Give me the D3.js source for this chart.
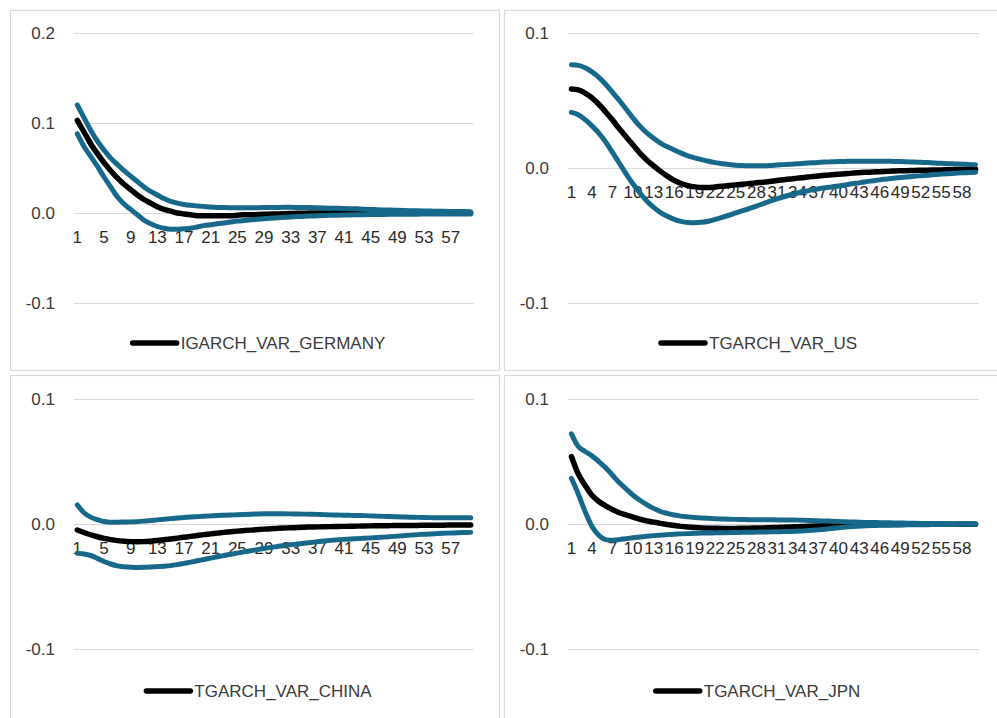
<!DOCTYPE html>
<html>
<head>
<meta charset="utf-8">
<script src="https://cdn.jsdelivr.net/npm/d3@7"></script>
<style>
  html, body { margin: 0; padding: 0; background: #fff; }
  svg { display: block; font-family: "Liberation Sans", Arial, sans-serif; }
</style>
</head>
<body>
<svg id="chart" width="997" height="718"></svg>
<script>
// Impulse-response periods 1..60
const periods = d3.range(1, 61);

// Tick labels
const ticksEvery4 = [1, 5, 9, 13, 17, 21, 25, 29, 33, 37, 41, 45, 49, 53, 57];
const ticksEvery3 = [1, 4, 7, 10, 13, 16, 19, 22, 25, 28, 31, 34, 37, 40, 43, 46, 49, 52, 55, 58];
const yTicksWide = [-0.1, 0.0, 0.1, 0.2];
const yTicksNarrow = [-0.1, 0.0, 0.1];

// Series names
const seriesNames = ["IGARCH_VAR_GERMANY", "TGARCH_VAR_US", "TGARCH_VAR_CHINA", "TGARCH_VAR_JPN"];

// GERMANY
const germanyResp = [0.103, 0.090, 0.077, 0.066, 0.056, 0.047, 0.039, 0.032, 0.026, 0.020,
  0.015, 0.011, 0.007, 0.004, 0.002, 0.000, -0.001, -0.002, -0.003, -0.003,
  -0.003, -0.003, -0.003, -0.003, -0.0025, -0.002, -0.002, -0.0018, -0.0015, -0.0012,
  -0.001, -0.0008, -0.0006, -0.0004, -0.0002, -0.0001, 0.0000, 0.0001, 0.0001, 0.0002,
  0.0002, 0.0002, 0.0002, 0.0002, 0.0002, 0.0002, 0.0002, 0.0002, 0.0001, 0.0001,
  0.0001, 0.0001, 0.0001, 0.0001, 0.0001, 0.0001, 0.0000, 0.0000, 0.0000, 0.0000];
const germanyUpper = [0.120, 0.106, 0.092, 0.080, 0.070, 0.061, 0.054, 0.047, 0.041, 0.035,
  0.029, 0.024, 0.020, 0.016, 0.013, 0.011, 0.0095, 0.0085, 0.0078, 0.0072,
  0.0066, 0.0062, 0.0060, 0.0058, 0.0057, 0.0057, 0.0058, 0.0059, 0.0060, 0.0061,
  0.0062, 0.0063, 0.0063, 0.0062, 0.0061, 0.0060, 0.0058, 0.0056, 0.0054, 0.0052,
  0.0050, 0.0048, 0.0046, 0.0043, 0.0040, 0.0037, 0.0034, 0.0032, 0.0030, 0.0028,
  0.0026, 0.0024, 0.0022, 0.0021, 0.0020, 0.0019, 0.0018, 0.0017, 0.0016, 0.0015];
const germanyLower = [0.088, 0.074, 0.063, 0.052, 0.040, 0.029, 0.018, 0.010, 0.004, -0.002,
  -0.008, -0.012, -0.015, -0.017, -0.018, -0.018, -0.0175, -0.017, -0.0155, -0.014,
  -0.013, -0.012, -0.011, -0.010, -0.009, -0.0083, -0.0076, -0.0070, -0.0064, -0.0058,
  -0.0053, -0.0048, -0.0044, -0.0040, -0.0037, -0.0034, -0.0031, -0.0028, -0.0026, -0.0024,
  -0.0022, -0.0021, -0.0020, -0.0019, -0.0018, -0.0017, -0.0016, -0.0015, -0.0014, -0.0014,
  -0.0013, -0.0013, -0.0012, -0.0012, -0.0011, -0.0011, -0.0011, -0.0010, -0.0010, -0.0010];

// US
const usResp = [0.0585, 0.0578, 0.0555, 0.052, 0.0472, 0.0415, 0.0355, 0.029, 0.023, 0.017,
  0.011, 0.006, 0.0015, -0.0025, -0.006, -0.0092, -0.0115, -0.013, -0.014, -0.0145,
  -0.0145, -0.014, -0.0135, -0.013, -0.0125, -0.012, -0.0115, -0.011, -0.0105, -0.010,
  -0.0093, -0.0087, -0.0081, -0.0075, -0.0070, -0.0064, -0.0059, -0.0054, -0.0050, -0.0046,
  -0.0042, -0.0038, -0.0035, -0.0032, -0.0030, -0.0027, -0.0025, -0.0023, -0.0021, -0.0020,
  -0.0018, -0.0017, -0.0016, -0.0015, -0.0014, -0.0013, -0.0012, -0.0011, -0.0010, -0.0010];
const usUpper = [0.0765, 0.0760, 0.0742, 0.0712, 0.0672, 0.062, 0.056, 0.050, 0.0435, 0.037,
  0.031, 0.026, 0.022, 0.0185, 0.0157, 0.0133, 0.011, 0.009, 0.0075, 0.0062,
  0.0050, 0.0040, 0.0032, 0.0026, 0.0021, 0.0018, 0.0016, 0.0016, 0.0017, 0.0019,
  0.0022, 0.0025, 0.0028, 0.0032, 0.0035, 0.0038, 0.0041, 0.0044, 0.0046, 0.0048,
  0.0049, 0.0050, 0.0050, 0.0050, 0.0050, 0.0050, 0.0050, 0.0049, 0.0048, 0.0046,
  0.0044, 0.0042, 0.0040, 0.0037, 0.0035, 0.0032, 0.0030, 0.0028, 0.0026, 0.0024];
const usLower = [0.0412, 0.0395, 0.0358, 0.0312, 0.0258, 0.0193, 0.0115, 0.0035, -0.0045, -0.0118,
  -0.0185, -0.0245, -0.0292, -0.0330, -0.0358, -0.0380, -0.0395, -0.0403, -0.0405, -0.0402,
  -0.0394, -0.0381, -0.0366, -0.0350, -0.0333, -0.0316, -0.0300, -0.0283, -0.0264, -0.0246,
  -0.0229, -0.0213, -0.0198, -0.0185, -0.0174, -0.0164, -0.0155, -0.0147, -0.0140, -0.0133,
  -0.0125, -0.0117, -0.0110, -0.0102, -0.0095, -0.0088, -0.0082, -0.0076, -0.0071, -0.0066,
  -0.0061, -0.0057, -0.0053, -0.0049, -0.0045, -0.0042, -0.0039, -0.0036, -0.0034, -0.0032];

// CHINA
const chinaResp = [-0.0048, -0.0068, -0.0086, -0.0102, -0.0115, -0.0125, -0.0133, -0.0138, -0.0141, -0.0142,
  -0.0141, -0.0137, -0.0132, -0.0126, -0.0120, -0.0113, -0.0106, -0.0099, -0.0092, -0.0085,
  -0.0079, -0.0073, -0.0067, -0.0062, -0.0057, -0.0053, -0.0049, -0.0045, -0.0041, -0.0038,
  -0.0035, -0.0032, -0.0030, -0.0028, -0.0026, -0.0024, -0.0023, -0.0022, -0.0021, -0.0020,
  -0.0019, -0.0018, -0.0017, -0.0016, -0.0015, -0.0014, -0.0014, -0.0013, -0.0012, -0.0012,
  -0.0011, -0.0011, -0.0010, -0.0010, -0.0009, -0.0009, -0.0008, -0.0008, -0.0008, -0.0008];
const chinaUpper = [0.0152, 0.0090, 0.0055, 0.0035, 0.0020, 0.0015, 0.0015, 0.0016, 0.0017, 0.0019,
  0.0023, 0.0028, 0.0033, 0.0038, 0.0043, 0.0048, 0.0052, 0.0056, 0.0059, 0.0062,
  0.0065, 0.0068, 0.0070, 0.0072, 0.0074, 0.0076, 0.0078, 0.0080, 0.0082, 0.0083,
  0.0083, 0.0082, 0.0081, 0.0080, 0.0079, 0.0078, 0.0077, 0.0075, 0.0073, 0.0072,
  0.0070, 0.0069, 0.0068, 0.0067, 0.0065, 0.0063, 0.0061, 0.0060, 0.0058, 0.0056,
  0.0054, 0.0053, 0.0052, 0.0051, 0.0050, 0.0050, 0.0050, 0.0050, 0.0050, 0.0050];
const chinaLower = [-0.0235, -0.0240, -0.0252, -0.0275, -0.0300, -0.0320, -0.0335, -0.0342, -0.0346, -0.0347,
  -0.0346, -0.0344, -0.0341, -0.0338, -0.0333, -0.0325, -0.0315, -0.0305, -0.0294, -0.0284,
  -0.0273, -0.0262, -0.0252, -0.0242, -0.0233, -0.0223, -0.0214, -0.0205, -0.0196, -0.0187,
  -0.0180, -0.0172, -0.0166, -0.0160, -0.0154, -0.0148, -0.0142, -0.0136, -0.0131, -0.0127,
  -0.0123, -0.0120, -0.0117, -0.0114, -0.0111, -0.0108, -0.0105, -0.0101, -0.0097, -0.0093,
  -0.0089, -0.0085, -0.0082, -0.0080, -0.0077, -0.0074, -0.0072, -0.0070, -0.0068, -0.0067];

// JPN
const jpnResp = [0.054, 0.040, 0.031, 0.023, 0.018, 0.0145, 0.0115, 0.0090, 0.0072, 0.0055,
  0.0038, 0.0025, 0.0015, 0.0005, -0.0004, -0.0012, -0.0019, -0.0024, -0.0028, -0.0031,
  -0.0033, -0.0034, -0.0035, -0.0035, -0.0035, -0.0034, -0.0033, -0.0032, -0.0031, -0.0029,
  -0.0027, -0.0025, -0.0023, -0.0021, -0.0019, -0.0017, -0.0015, -0.0013, -0.0011, -0.0010,
  -0.0008, -0.0007, -0.0006, -0.0005, -0.0004, -0.0004, -0.0003, -0.0003, -0.0003, -0.0002,
  -0.0002, -0.0002, -0.0002, -0.0001, -0.0001, -0.0001, -0.0001, -0.0001, -0.0001, -0.0001];
const jpnUpper = [0.0721, 0.062, 0.058, 0.0545, 0.050, 0.045, 0.039, 0.033, 0.028, 0.023,
  0.019, 0.0155, 0.0125, 0.0100, 0.0085, 0.0072, 0.0063, 0.0057, 0.0052, 0.0048,
  0.0045, 0.0042, 0.0040, 0.0038, 0.0037, 0.0036, 0.0035, 0.0035, 0.0034, 0.0034,
  0.0033, 0.0033, 0.0032, 0.0031, 0.0030, 0.0028, 0.0026, 0.0024, 0.0022, 0.0020,
  0.0018, 0.0016, 0.0014, 0.0013, 0.0012, 0.0011, 0.0010, 0.0009, 0.0008, 0.0007,
  0.0006, 0.0005, 0.0005, 0.0004, 0.0004, 0.0003, 0.0003, 0.0002, 0.0002, 0.0002];
const jpnLower = [0.0366, 0.024, 0.010, -0.002, -0.009, -0.0125, -0.0130, -0.0125, -0.0117, -0.0110,
  -0.0104, -0.0098, -0.0093, -0.0089, -0.0085, -0.0082, -0.0079, -0.0077, -0.0075, -0.0073,
  -0.0072, -0.0071, -0.0070, -0.0069, -0.0068, -0.0067, -0.0066, -0.0065, -0.0064, -0.0063,
  -0.0062, -0.0061, -0.0060, -0.0058, -0.0055, -0.0051, -0.0047, -0.0042, -0.0036, -0.0030,
  -0.0025, -0.0021, -0.0018, -0.0015, -0.0013, -0.0011, -0.0010, -0.0009, -0.0008, -0.0007,
  -0.0006, -0.0005, -0.0005, -0.0004, -0.0004, -0.0003, -0.0003, -0.0002, -0.0002, -0.0002];

const respColor = "#000000";
const bandColor = "#17698c";
const gridColor = "#d9d9d9";
const textColor = "#3a3a3a";

// Panel layout: frame box, plot area, value range and legend placement
const panels = [
  { name: seriesNames[0], resp: germanyResp, upper: germanyUpper, lower: germanyLower,
    frame: [10, 10, 499, 370], x0: 74, x1: 474, yTop: 33, yBot: 303,
    domain: [-0.1, 0.2], yTicks: yTicksWide, xTicks: ticksEvery4, legendY: 343, legendCx: 259 },
  { name: seriesNames[1], resp: usResp, upper: usUpper, lower: usLower,
    frame: [504, 10, 1000, 370], x0: 568, x1: 979, yTop: 33, yBot: 303,
    domain: [-0.1, 0.1], yTicks: yTicksNarrow, xTicks: ticksEvery3, legendY: 343, legendCx: 759 },
  { name: seriesNames[2], resp: chinaResp, upper: chinaUpper, lower: chinaLower,
    frame: [10, 375, 499, 720], x0: 74, x1: 474, yTop: 399, yBot: 649,
    domain: [-0.1, 0.1], yTicks: yTicksNarrow, xTicks: ticksEvery4, legendY: 691, legendCx: 259 },
  { name: seriesNames[3], resp: jpnResp, upper: jpnUpper, lower: jpnLower,
    frame: [504, 375, 1000, 720], x0: 568, x1: 979, yTop: 399, yBot: 649,
    domain: [-0.1, 0.1], yTicks: yTicksNarrow, xTicks: ticksEvery3, legendY: 691, legendCx: 758 }
];

const svg = d3.select("#chart");

panels.forEach(p => {
  const g = svg.append("g");

  // chart frame
  g.append("rect")
    .attr("x", p.frame[0] + 0.5).attr("y", p.frame[1] + 0.5)
    .attr("width", p.frame[2] - p.frame[0]).attr("height", p.frame[3] - p.frame[1])
    .attr("fill", "#fff").attr("stroke", gridColor).attr("stroke-width", 1.2);

  const x = d3.scaleBand().domain(periods).range([p.x0, p.x1]).padding(0);
  const y = d3.scaleLinear().domain(p.domain).range([p.yBot, p.yTop]);
  const cx = d => x(d) + x.bandwidth() / 2;

  // value axis with gridlines
  const yAxis = d3.axisLeft(y)
    .tickValues(p.yTicks)
    .tickSize(-(p.x1 - p.x0))
    .tickPadding(19)
    .tickFormat(d => d.toFixed(1));
  const ya = g.append("g").attr("transform", `translate(${p.x0},0)`).call(yAxis);
  ya.select(".domain").remove();
  ya.selectAll(".tick line").attr("stroke", gridColor).attr("stroke-width", 1.2);
  ya.selectAll(".tick text")
    .attr("fill", textColor).attr("font-size", 17)
    .attr("font-family", "Liberation Sans, Arial, sans-serif");

  // category axis sitting on the zero line
  const xAxis = d3.axisBottom(x).tickValues(p.xTicks).tickSize(0).tickPadding(0);
  const xa = g.append("g").attr("transform", `translate(0,${y(0)})`).call(xAxis);
  xa.select(".domain").remove();
  xa.selectAll(".tick text")
    .attr("y", 24).attr("dy", "0.35em")
    .attr("fill", "#2a2a2a").attr("font-size", 17)
    .attr("font-family", "Liberation Sans, Arial, sans-serif");

  // response and confidence bands
  const line = d3.line()
    .x((d, i) => cx(periods[i]))
    .y(d => y(d))
    .curve(d3.curveMonotoneX);

  const drawSeries = (vals, color, w) => g.append("path")
    .datum(vals)
    .attr("d", line)
    .attr("fill", "none")
    .attr("stroke", color)
    .attr("stroke-width", w)
    .attr("stroke-linecap", "round")
    .attr("stroke-linejoin", "round");

  drawSeries(p.resp, respColor, 5.5);
  drawSeries(p.upper, bandColor, 5);
  drawSeries(p.lower, bandColor, 5);

  // legend
  const lg = g.append("g");
  const lt = lg.append("text")
    .attr("y", p.legendY).attr("dy", "0.35em")
    .attr("fill", textColor).attr("font-size", 17)
    .attr("font-family", "Liberation Sans, Arial, sans-serif")
    .text(p.name);
  const tw = lt.node().getComputedTextLength();
  const keyW = 44, gap = 4;
  const left = p.legendCx - (keyW + gap + tw) / 2;
  lg.append("line")
    .attr("x1", left).attr("x2", left + keyW)
    .attr("y1", p.legendY).attr("y2", p.legendY)
    .attr("stroke", respColor).attr("stroke-width", 5.5)
    .attr("stroke-linecap", "round");
  lt.attr("x", left + keyW + gap);
});
</script>
</body>
</html>
